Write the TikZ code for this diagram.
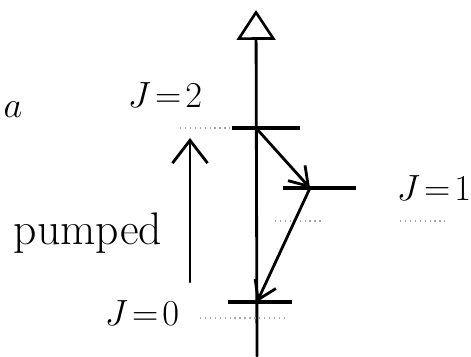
\documentclass[tikz,border=0pt]{standalone}
\usepackage{tikz}
\usetikzlibrary{arrows.meta}

\begin{document}
\begin{tikzpicture}[
    x=0.02cm, y=-0.02cm,
    ink/.style={line width=1.6pt, black, line cap=round},
    lvl/.style={line width=1.8pt, black},
    arr/.style={ink, -{Straight Barb[length=10pt, width=13pt, line width=1.6pt]}},
    bigarr/.style={ink, -{Straight Barb[length=13pt, width=20pt, line width=1.6pt]}},
    dots/.style={line width=0.8pt, gray!70, dotted},
    hand/.style={font=\fontsize{22}{25}\selectfont, inner sep=0pt},
    txt/.style={font=\fontsize{26}{30}\selectfont, inner sep=0pt}
]
\useasboundingbox (0,0) rectangle (471,356);

% energy axis
\coordinate (axbot) at (257,356);
\coordinate (axtop) at (256,10);
\draw[ink, -{Triangle[open, length=17pt, width=22pt, line width=1.5pt]}] (axbot) -- (axtop);

% levels
\coordinate (j2) at (256,128);
\coordinate (j1) at (310,188);
\coordinate (j0) at (257,302);
\draw[lvl] (232,128) -- (300,128);
\draw[lvl] (283,188) -- (356,188);
\draw[lvl] (228,302) -- (292,302);

% dotted guides
\draw[dots] (180,128) -- (230,128);
\draw[dots] (275,221) -- (322,221);
\draw[dots] (400,221) -- (445,221);
\draw[dots] (200,318) -- (288,318);

% decays
\draw[arr] (j2) -- (j1);
\draw[arr] (j1) -- (j0);

% pumping
\coordinate (pb) at (190,282);
\coordinate (pt) at (190,138);
\draw[bigarr] (pb) -- (pt);

% labels
\node[hand] (lbla) at (13,110) {$a$};
\node[hand] (lbl2) at (165,95) {$J\!=\!2$};
\node[hand] (lbl1) at (434,188) {$J\!=\!1$};
\node[hand] (lbl0) at (142,313) {$J\!=\!0$};
\node[txt]  (pump) at (88,233) {pumped};
\end{tikzpicture}
\end{document}
